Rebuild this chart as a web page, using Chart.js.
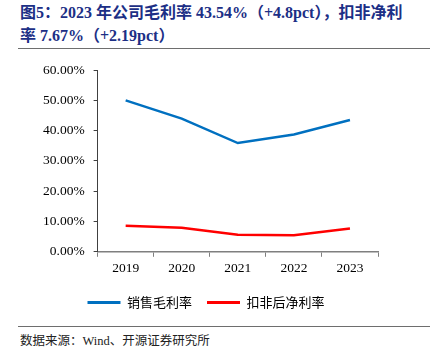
<!DOCTYPE html>
<html>
<head>
<meta charset="utf-8">
<script src="https://cdn.jsdelivr.net/npm/chart.js@4"></script>
<style>
  body { margin: 0; width: 436px; height: 353px; background: #fff; position: relative; overflow: hidden; }
  .title { position: absolute; left: 20px; top: 1px; font: bold 16px "Liberation Serif", "Noto Sans CJK SC", serif; color: #1c2f86; line-height: 23px; white-space: nowrap; }
  .rule { position: absolute; left: 18px; width: 412px; height: 1px; background: #6e6e6e; }
  .source { position: absolute; left: 20px; top: 330px; font: 12.5px "Liberation Serif", "Noto Sans CJK SC", serif; color: #222; white-space: nowrap; }
  #wrap { position: absolute; left: 0; top: 53px; width: 436px; height: 266px; }
</style>
</head>
<body>
<div class="title">图5：2023 年公司毛利率 43.54%（+4.8pct），扣非净利<br>率 7.67%（+2.19pct）</div>
<div class="rule" style="top:48px"></div>
<div id="wrap"><canvas id="chart1"></canvas></div>
<div class="rule" style="top:326px"></div>
<div class="source">数据来源：Wind、开源证券研究所</div>
<script>
const years = ['2019', '2020', '2021', '2022', '2023']
const grossMargin = [50.0, 44.0, 35.9, 38.74, 43.54]
const netMarginExcl = [8.6, 7.96, 5.6, 5.48, 7.67]
const seriesNames = ['销售毛利率', '扣非后净利率']

const colors = ['#0070c0', '#ff0000']
const serif = "'Liberation Serif', 'Times New Roman', Times, serif"

const data = {
  labels: years,
  datasets: [grossMargin, netMarginExcl].map((values, i) => ({
    label: seriesNames[i],
    data: values,
    borderColor: colors[i],
    backgroundColor: colors[i],
    borderWidth: 2.5,
    pointRadius: 0,
    tension: 0
  }))
}

const options = {
  responsive: true,
  maintainAspectRatio: false,
  animation: false,
  layout: {
    padding: { left: 34, right: 58, top: 12, bottom: 0 }
  },
  plugins: {
    legend: {
      position: 'bottom',
      labels: {
        boxWidth: 33,
        boxHeight: 3,
        padding: 15,
        color: '#222',
        font: { family: "'Noto Sans CJK SC'", size: 13 },
        generateLabels: chart => chart.data.datasets.map((ds, i) => ({
          text: ds.label,
          fillStyle: ds.borderColor,
          strokeStyle: ds.borderColor,
          lineWidth: 0,
          datasetIndex: i
        }))
      }
    },
    tooltip: { enabled: false }
  },
  scales: {
    x: {
      offset: true,
      grid: { offset: true, drawOnChartArea: false, drawTicks: true, tickLength: 5, color: '#7f7f7f' },
      border: { color: '#7f7f7f', width: 1.5 },
      ticks: { color: '#000', padding: 4, font: { family: serif, size: 13.5 } }
    },
    y: {
      min: 0,
      max: 60,
      grid: { drawOnChartArea: false, drawTicks: true, tickLength: 4, color: '#404040' },
      border: { color: '#404040', width: 1 },
      ticks: {
        stepSize: 10,
        color: '#000',
        padding: 9,
        font: { family: serif, size: 13.5 },
        callback: v => v.toFixed(2) + '%'
      }
    }
  }
}

Promise.all([
  document.fonts.load("13px 'Liberation Serif'", '0123456789.%'),
  document.fonts.load("13px 'Noto Sans CJK SC'", '销售毛利率')
]).catch(() => {}).then(() => {
  new Chart('chart1', {
    type: 'line',
    data,
    options
  })
})
</script>
</body>
</html>
